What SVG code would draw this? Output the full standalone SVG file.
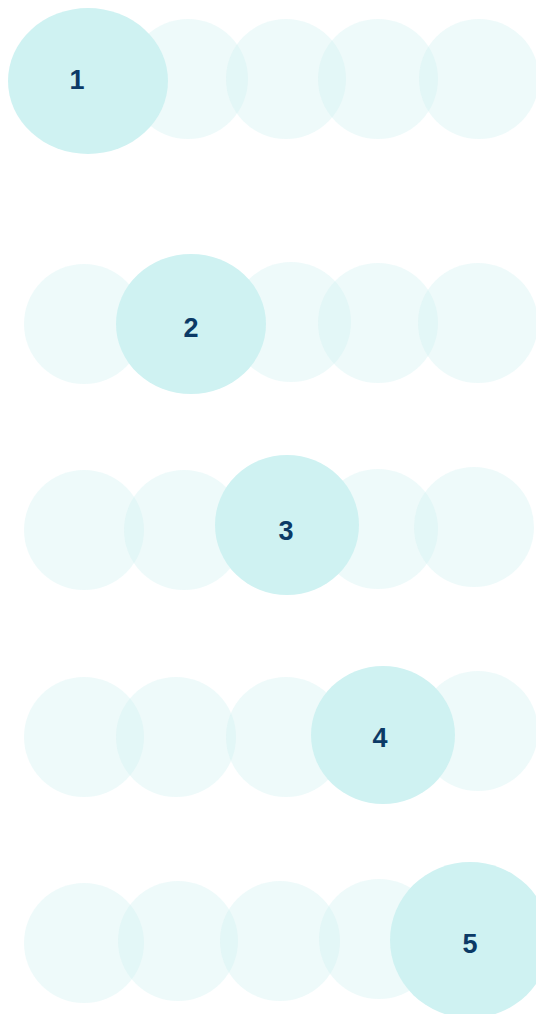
<svg xmlns="http://www.w3.org/2000/svg" width="536" height="1014" viewBox="0 0 536 1014">
<style>
.s{fill:#CFF2F2;fill-opacity:0.35}
.b{fill:#CFF2F2}
.t{font-family:"Liberation Sans",Arial,sans-serif;font-weight:bold;font-size:27px;fill:#0B3A66;text-anchor:middle;dominant-baseline:central}
</style>
<rect width="536" height="1014" fill="#FFFFFF"/>
<g id="row1">
<circle class="s" cx="188" cy="79" r="60"/>
<circle class="s" cx="286" cy="79" r="60"/>
<circle class="s" cx="378" cy="79" r="60"/>
<circle class="s" cx="479" cy="79" r="60"/>
<g id="node1"><ellipse class="b" cx="88" cy="81" rx="80" ry="73"/><text class="t" x="77" y="80">1</text></g>
</g>
<g id="row2">
<circle class="s" cx="84" cy="324" r="60"/>
<circle class="s" cx="291" cy="322" r="60"/>
<circle class="s" cx="378" cy="323" r="60"/>
<circle class="s" cx="478" cy="323" r="60"/>
<g id="node2"><ellipse class="b" cx="191" cy="324" rx="75" ry="70"/><text class="t" x="191" y="328">2</text></g>
</g>
<g id="row3">
<circle class="s" cx="84" cy="530" r="60"/>
<circle class="s" cx="184" cy="530" r="60"/>
<circle class="s" cx="378" cy="529" r="60"/>
<circle class="s" cx="474" cy="527" r="60"/>
<g id="node3"><ellipse class="b" cx="287" cy="525" rx="72" ry="70"/><text class="t" x="286" y="531">3</text></g>
</g>
<g id="row4">
<circle class="s" cx="84" cy="737" r="60"/>
<circle class="s" cx="176" cy="737" r="60"/>
<circle class="s" cx="286" cy="737" r="60"/>
<circle class="s" cx="478" cy="731" r="60"/>
<g id="node4"><ellipse class="b" cx="383" cy="735" rx="72" ry="69"/><text class="t" x="380" y="738">4</text></g>
</g>
<g id="row5">
<circle class="s" cx="84" cy="943" r="60"/>
<circle class="s" cx="178" cy="941" r="60"/>
<circle class="s" cx="280" cy="941" r="60"/>
<circle class="s" cx="379" cy="939" r="60"/>
<g id="node5"><ellipse class="b" cx="470" cy="940" rx="80" ry="78"/><text class="t" x="470" y="944">5</text></g>
</g>
<g id="connectors"/>
</svg>
